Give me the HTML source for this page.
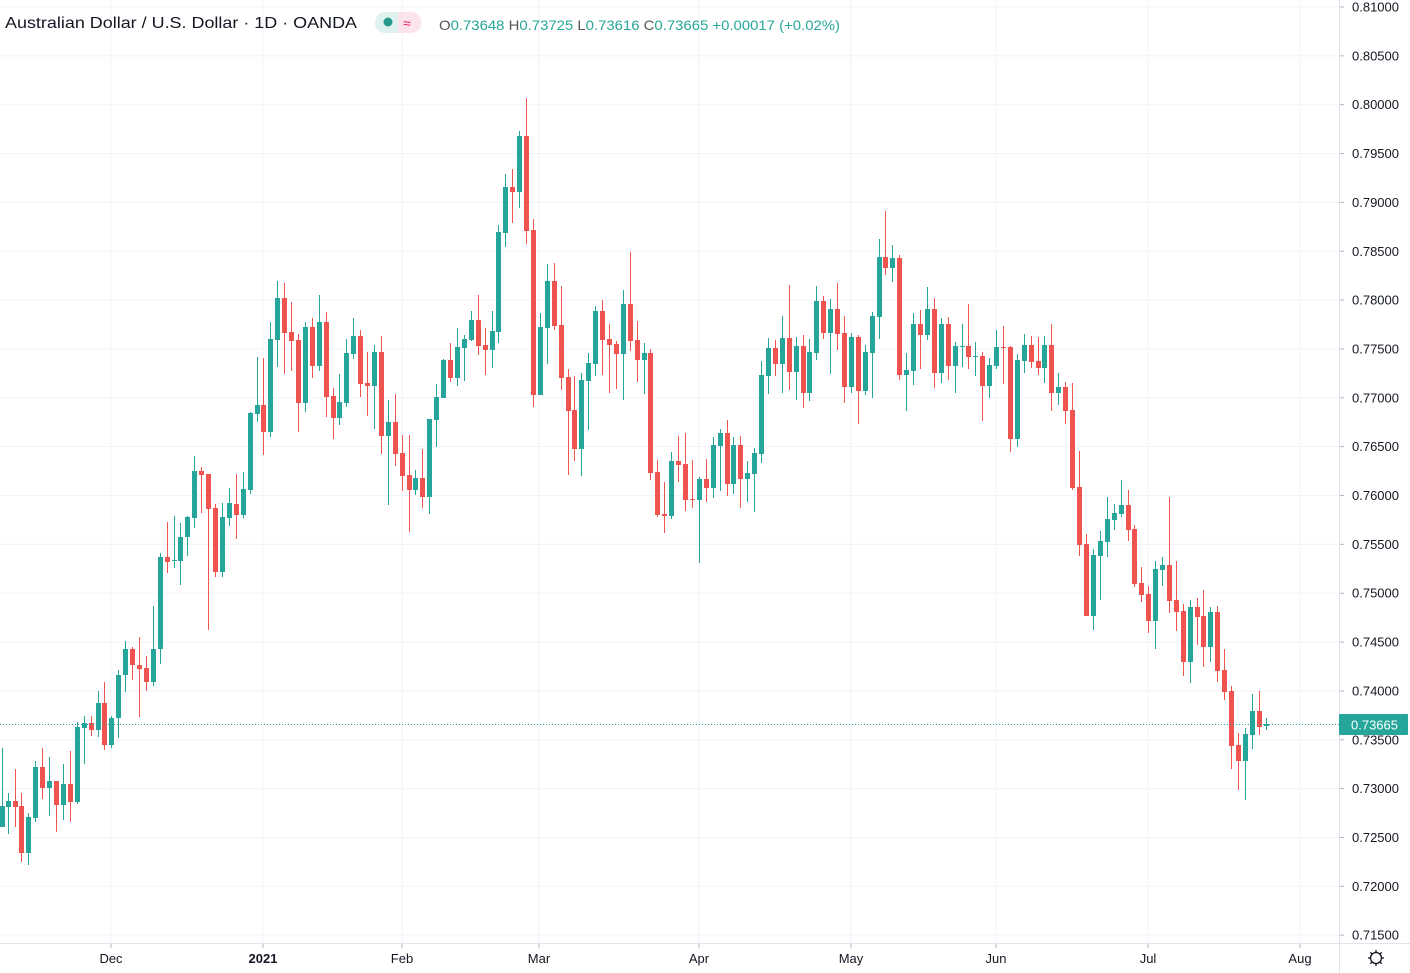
<!DOCTYPE html>
<html><head><meta charset="utf-8"><style>
html,body{margin:0;padding:0;background:#fff;}
body{width:1410px;height:973px;overflow:hidden;position:relative;font-family:"Liberation Sans",sans-serif;}
svg{position:absolute;left:0;top:0;}
</style></head><body>
<svg id="c" width="1410" height="973" xmlns="http://www.w3.org/2000/svg"></svg>
<script>
var s=document.getElementById('c');
var h='';
var G='#26a69a',R='#ef5350';
// horizontal gridlines & labels
for(var i=0;i<20;i++){
  var p=0.81-i*0.005, y=7+i*48.85;
  h+='<line x1="0" x2="1339" y1="'+y+'" y2="'+y+'" stroke="#f0f3fa" stroke-width="1"/>';
  h+='<line x1="1339" x2="1344" y1="'+y+'" y2="'+y+'" stroke="#b2b5be" stroke-width="1"/>';
  h+='<text x="1352" y="'+(y+4.5)+'" font-size="13" fill="#131722">'+p.toFixed(5)+'</text>';
}
var months=[[111,'Dec',0],[263,'2021',1],[402,'Feb',0],[539,'Mar',0],[699,'Apr',0],[851,'May',0],[996,'Jun',0],[1148,'Jul',0],[1300,'Aug',0]];
months.forEach(function(m){
  h+='<line x1="'+m[0]+'" x2="'+m[0]+'" y1="0" y2="943" stroke="#f0f3fa" stroke-width="1"/>';
  h+='<line x1="'+m[0]+'" x2="'+m[0]+'" y1="943" y2="948" stroke="#b2b5be"/>';
  h+='<text x="'+m[0]+'" y="963" font-size="13" text-anchor="middle" fill="#131722"'+(m[2]?' font-weight="bold"':'')+'>'+m[1]+'</text>';
});
h+='<line x1="1339.5" x2="1339.5" y1="0" y2="973" stroke="#e0e3eb"/>';
h+='<line x1="0" x2="1410" y1="943.5" y2="943.5" stroke="#e0e3eb"/>';
// data: x, bodyTop, bodyBottom, wickTop, wickBottom, green?
var d=[
[2,806,827,748,827,1],[8,801,807,793,834,1],[15,801,807,769,827,0],[21,806,853,793,862,0],[28,817,853,813,865,1],
[35,767,818,761,822,1],[42,767,788,748,799,0],[49,781,788,757,816,1],[56,781,805,781,832,0],[63,784,805,764,820,1],
[70,784,802,751,822,0],[77,727,802,722,804,1],[84,723,728,716,764,1],[91,723,730,716,736,0],[98,703,730,691,737,1],
[104,703,745,682,750,0],[111,718,745,716,748,1],[118,675,718,670,738,1],[125,649,675,641,692,1],[132,649,665,647,680,0],
[139,665,669,637,717,0],[146,668,682,656,691,0],[153,649,682,606,686,1],[160,557,649,553,664,1],[167,557,562,522,573,0],
[174,560,561,516,568,1],[180,537,561,523,585,1],[187,517,537,516,556,1],[194,471,518,456,528,1],[201,471,475,467,513,0],
[208,474,509,474,630,0],[215,508,572,504,577,0],[222,517,572,503,577,1],[229,503,518,488,526,1],
[236,504,515,474,539,0],[243,489,515,472,518,1],[250,413,490,412,494,1],[257,405,414,357,422,1],[263,405,432,358,455,0],
[270,339,432,322,437,1],[277,298,340,281,367,1],[284,298,333,283,374,0],[291,332,341,302,371,0],[298,340,403,334,432,0],
[305,327,403,322,412,1],[312,327,366,318,378,0],[319,322,366,295,371,1],[326,322,397,312,417,0],[333,396,418,388,439,0],
[339,402,418,374,425,1],[346,353,403,339,407,1],[353,336,354,318,359,1],[360,336,384,330,397,0],[367,383,386,352,416,0],
[374,352,386,345,429,1],[381,352,436,336,454,0],[388,422,436,400,505,1],[395,422,454,394,466,0],[402,453,476,435,491,0],
[409,475,490,435,532,0],[415,478,490,470,495,1],[422,478,497,449,508,0],[429,419,497,419,514,1],[436,397,420,384,447,1],
[443,360,398,359,398,1],[450,360,378,343,382,0],[457,347,378,328,386,1],[464,339,348,335,381,1],[471,320,340,311,341,1],
[478,320,346,295,355,0],[485,345,350,328,375,0],[492,331,350,311,368,1],[498,232,332,225,343,1],[505,187,233,174,247,1],
[512,187,192,169,223,0],[519,136,192,131,208,1],[526,136,231,98,244,0],[533,230,395,219,407,0],[540,327,395,313,395,1],
[547,281,328,264,364,1],[554,281,326,263,330,0],[561,325,378,286,390,0],[568,377,411,369,475,0],[574,410,449,376,461,0],
[581,380,449,373,476,1],[588,363,381,353,430,1],[595,311,364,306,376,1],[602,311,340,300,375,0],[609,339,345,324,393,0],
[616,344,354,341,389,0],[623,304,354,290,400,1],[630,304,341,252,351,0],[637,340,360,321,382,0],[644,353,360,343,394,1],
[650,353,473,349,480,0],[657,472,515,460,517,0],[664,514,516,482,533,0],[671,461,516,452,519,1],[678,461,465,436,482,0],
[685,464,500,433,511,0],[692,499,500,460,508,0],[699,479,500,477,563,1],[706,479,488,459,502,0],[713,445,488,437,498,1],
[720,433,446,429,491,1],[727,433,484,420,496,0],[733,445,484,437,494,1],[740,445,479,436,508,0],[747,473,479,461,502,1],
[754,453,474,448,512,1],[761,375,454,361,463,1],[768,348,376,338,394,1],[775,348,364,340,376,0],[782,338,364,316,393,1],
[789,338,372,285,390,0],[796,346,372,337,400,1],[803,346,393,335,408,0],[809,352,393,339,401,1],[816,301,353,286,360,1],
[823,301,333,296,339,0],[830,309,333,299,374,1],[837,309,334,283,350,0],[844,333,387,316,403,0],[851,337,387,333,393,1],
[858,337,391,335,424,0],[865,352,391,345,395,1],[872,316,353,312,398,1],[879,257,317,239,339,1],[885,257,268,211,275,0],
[892,258,268,245,282,1],[899,258,375,255,380,0],[906,370,375,353,411,1],[913,324,371,313,385,1],[920,324,335,310,369,0],
[927,309,335,287,340,1],[934,309,373,298,388,0],[941,324,373,318,383,1],[948,324,366,317,380,0],[955,346,366,342,393,1],
[962,346,347,324,367,1],[968,346,357,304,369,0],[975,356,357,342,376,1],[982,356,386,352,421,0],[989,365,386,358,398,1],
[996,347,366,330,369,1],[1003,347,348,326,384,0],[1010,347,439,346,452,0],[1017,360,439,354,447,1],[1024,345,361,334,373,1],
[1031,345,362,336,368,0],[1038,361,368,337,375,0],[1044,345,368,336,383,1],[1051,345,393,324,411,0],[1058,387,393,373,405,1],
[1065,387,411,382,424,0],[1072,410,488,383,490,0],[1079,487,545,451,556,0],[1086,544,616,534,616,0],[1093,555,616,549,630,1],
[1100,541,556,531,600,1],[1107,519,542,497,557,1],[1114,513,520,504,530,1],[1121,505,514,480,517,1],[1128,505,530,490,541,0],
[1134,529,584,525,587,0],[1141,583,595,567,602,0],[1148,594,621,586,633,0],[1155,569,621,561,649,1],[1162,565,570,557,586,1],
[1169,565,601,497,613,0],[1176,600,612,561,631,0],[1183,611,662,604,676,0],[1190,607,662,600,683,1],[1197,607,617,598,645,0],
[1203,616,647,590,667,0],[1210,612,647,607,662,1],[1217,612,671,606,682,0],[1224,670,692,649,700,0],[1231,691,746,686,769,0],
[1238,745,761,733,790,0],[1245,734,761,728,800,1],[1252,711,735,694,749,1],[1259,711,727,691,735,0],[1266,724,726,718,730,1]
];
d.forEach(function(c){
  var col=c[5]?G:R;
  h+='<line x1="'+(c[0]+0.5)+'" x2="'+(c[0]+0.5)+'" y1="'+c[3]+'" y2="'+c[4]+'" stroke="'+col+'" stroke-width="1"/>';
  var bh=Math.max(1,c[2]-c[1]);
  h+='<rect x="'+(c[0]-2)+'" y="'+c[1]+'" width="5" height="'+bh+'" fill="'+col+'"/>';
});
// last price line
h+='<line x1="0" x2="1339" y1="724.5" y2="724.5" stroke="'+G+'" stroke-width="1" stroke-dasharray="1,2"/>';
h+='<rect x="1339" y="714" width="69" height="21" rx="1" fill="'+G+'"/>';
h+='<text x="1351" y="729.5" font-size="13" fill="#fff">0.73665</text>';
// settings gear
h+='<circle cx="1376" cy="958" r="5.5" fill="none" stroke="#131722" stroke-width="1.3"/>';
for(var a=0;a<8;a++){var an=a*Math.PI/4;h+='<line x1="'+(1376+5.5*Math.cos(an))+'" y1="'+(958+5.5*Math.sin(an))+'" x2="'+(1376+8*Math.cos(an))+'" y2="'+(958+8*Math.sin(an))+'" stroke="#131722" stroke-width="1.3"/>';}
// header
h+='<text x="5" y="28" font-size="16" fill="#131722" textLength="352" lengthAdjust="spacingAndGlyphs">Australian Dollar / U.S. Dollar · 1D · OANDA</text>';
h+='<rect x="375" y="12" width="46" height="21" rx="10" fill="#e0f2ef"/>';
h+='<path d="M398 12 h13 a10 10 0 0 1 0 21 h-13 z" fill="#fde4ea"/>';
h+='<circle cx="388" cy="22" r="4.5" fill="#26998a"/>';
h+='<text x="403" y="28" font-size="14" fill="#e91e63">≈</text>';
h+='<text x="439" y="30" font-size="14" fill="'+G+'" textLength="401" lengthAdjust="spacingAndGlyphs"><tspan fill="#555">O</tspan>0.73648 <tspan fill="#555">H</tspan>0.73725 <tspan fill="#555">L</tspan>0.73616 <tspan fill="#555">C</tspan>0.73665 +0.00017 (+0.02%)</text>';
s.innerHTML=h;
</script>
</body></html>
